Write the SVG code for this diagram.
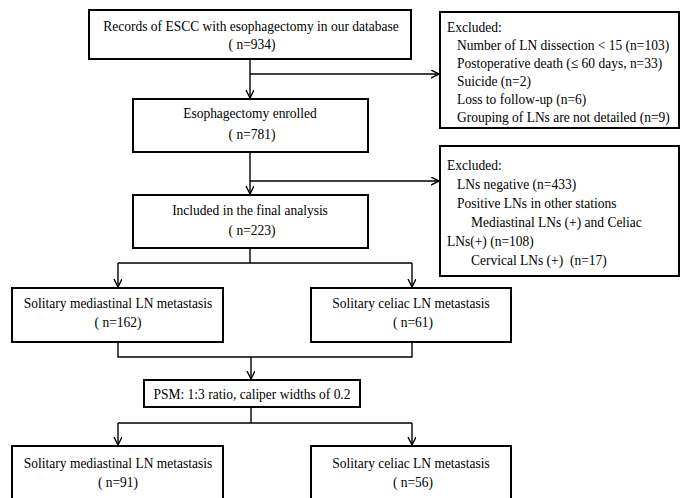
<svg xmlns="http://www.w3.org/2000/svg" width="681" height="498" viewBox="0 0 681 498">
<style>
.box{fill:#fff;stroke:#000;stroke-width:2}
.t{font-family:"Liberation Serif","Times New Roman",serif;font-size:15px;fill:#000}
.c{text-anchor:middle}
.ln{fill:none;stroke:#000;stroke-width:1.4}
</style>
<defs>
<marker id="ah" markerWidth="10" markerHeight="10" refX="8" refY="4" orient="auto" markerUnits="userSpaceOnUse">
<path d="M0,0 L8,4 L0,8" fill="none" stroke="#000" stroke-width="1.4"/>
</marker>
</defs>
<rect width="681" height="498" fill="#fff"/>
<g id="connectors">
<path class="ln" d="M250,59 V98" marker-end="url(#ah)"/>
<path class="ln" d="M250,74 H439" marker-end="url(#ah)"/>
<path class="ln" d="M250,152 V194" marker-end="url(#ah)"/>
<path class="ln" d="M250,181 H439" marker-end="url(#ah)"/>
<path class="ln" d="M250,248 V263 M118,263 H412"/>
<path class="ln" d="M118,263 V287" marker-end="url(#ah)"/>
<path class="ln" d="M412,263 V287" marker-end="url(#ah)"/>
<path class="ln" d="M118,342 V357 H412 V342"/>
<path class="ln" d="M251,357 V379" marker-end="url(#ah)"/>
<path class="ln" d="M251,407 V423 M118,423 H412"/>
<path class="ln" d="M118,423 V445" marker-end="url(#ah)"/>
<path class="ln" d="M412,423 V445" marker-end="url(#ah)"/>
</g>
<g id="n1">
<rect class="box" x="89" y="10" width="322" height="49"/>
<text class="t c" transform="translate(251,31) scale(0.9,1)">Records of ESCC with esophagectomy in our database</text>
<text class="t c" transform="translate(252,49) scale(0.9,1)">( n=934)</text>
</g>
<g id="n2">
<rect class="box" x="133" y="99" width="235" height="53"/>
<text class="t c" transform="translate(250,118) scale(0.9,1)">Esophagectomy enrolled</text>
<text class="t c" transform="translate(252,139) scale(0.9,1)">( n=781)</text>
</g>
<g id="n3">
<rect class="box" x="133" y="195" width="235" height="53"/>
<text class="t c" transform="translate(250,215) scale(0.9,1)">Included in the final analysis</text>
<text class="t c" transform="translate(252,235) scale(0.9,1)">( n=223)</text>
</g>
<g id="ex1">
<rect class="box" x="440" y="12" width="239" height="116"/>
<text class="t" transform="translate(447,32) scale(0.9,1)">Excluded:</text>
<text class="t" transform="translate(457,50) scale(0.9,1)">Number of LN dissection &lt; 15 (n=103)</text>
<text class="t" transform="translate(457,68) scale(0.9,1)">Postoperative death (≤ 60 days, n=33)</text>
<text class="t" transform="translate(457,86) scale(0.9,1)">Suicide (n=2)</text>
<text class="t" transform="translate(457,104) scale(0.9,1)">Loss to follow-up (n=6)</text>
<text class="t" transform="translate(457,122) scale(0.9,1)">Grouping of LNs are not detailed (n=9)</text>
</g>
<g id="ex2">
<rect class="box" x="440" y="146" width="239" height="130"/>
<text class="t" transform="translate(447,170) scale(0.9,1)">Excluded:</text>
<text class="t" transform="translate(457,189) scale(0.9,1)">LNs negative (n=433)</text>
<text class="t" transform="translate(457,208) scale(0.9,1)">Positive LNs in other stations</text>
<text class="t" transform="translate(471,227) scale(0.9,1)">Mediastinal LNs (+) and Celiac</text>
<text class="t" transform="translate(447,246) scale(0.9,1)">LNs(+) (n=108)</text>
<text class="t" transform="translate(471,265) scale(0.9,1)" xml:space="preserve">Cervical LNs (+)  (n=17)</text>
</g>
<g id="n4">
<rect class="box" x="12" y="288" width="211" height="54"/>
<text class="t c" transform="translate(118,308) scale(0.9,1)">Solitary mediastinal LN metastasis</text>
<text class="t c" transform="translate(118,327) scale(0.9,1)">( n=162)</text>
</g>
<g id="n5">
<rect class="box" x="311" y="288" width="200" height="54"/>
<text class="t c" transform="translate(411,308) scale(0.9,1)">Solitary celiac LN metastasis</text>
<text class="t c" transform="translate(413,327) scale(0.9,1)">( n=61)</text>
</g>
<g id="n6">
<rect class="box" x="144" y="380" width="216" height="27"/>
<text class="t c" transform="translate(252,399) scale(0.9,1)">PSM: 1:3 ratio, caliper widths of 0.2</text>
</g>
<g id="n7">
<rect class="box" x="12" y="446" width="211" height="60"/>
<text class="t c" transform="translate(118,468) scale(0.9,1)">Solitary mediastinal LN metastasis</text>
<text class="t c" transform="translate(118,487) scale(0.9,1)">( n=91)</text>
</g>
<g id="n8">
<rect class="box" x="311" y="446" width="200" height="60"/>
<text class="t c" transform="translate(411,468) scale(0.9,1)">Solitary celiac LN metastasis</text>
<text class="t c" transform="translate(413,487) scale(0.9,1)">( n=56)</text>
</g>
</svg>
